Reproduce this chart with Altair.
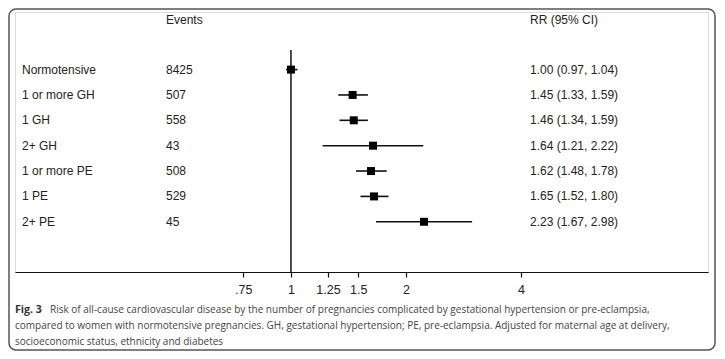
import altair as alt
import pandas as pd

groups = ["Normotensive", "1 or more GH", "1 GH", "2+ GH", "1 or more PE", "1 PE", "2+ PE"]
events = ["8425", "507", "558", "43", "508", "529", "45"]
rr = [1.00, 1.45, 1.46, 1.64, 1.62, 1.65, 2.23]
lo = [0.97, 1.33, 1.34, 1.21, 1.48, 1.52, 1.67]
hi = [1.04, 1.59, 1.59, 2.22, 1.78, 1.80, 2.98]
tick_values = [0.75, 1, 1.25, 1.5, 2, 4]
caption_bold = "Fig. 3"
caption_lines = [
    "Risk of all-cause cardiovascular disease by the number of pregnancies complicated by gestational hypertension or pre-eclampsia,",
    "compared to women with normotensive pregnancies. GH, gestational hypertension; PE, pre-eclampsia. Adjusted for maternal age at delivery,",
    "socioeconomic status, ethnicity and diabetes",
]

df = pd.DataFrame({
    "group": groups,
    "events": events,
    "rr": rr,
    "lo": lo,
    "hi": hi,
    "row": list(range(len(groups))),
})
df["label"] = [f"{r:.2f} ({l:.2f}, {h:.2f})" for r, l, h in zip(rr, lo, hi)]

W, H = 693, 260
FONT = "Liberation Sans"
TXT = "#222222"

xscale = alt.Scale(type="log", domain=[0.1895, 12.35], nice=False, zero=False)
yscale = alt.Scale(domain=[-2.27, 7.98], reverse=True, nice=False, zero=False)

base = alt.Chart(df)

xaxis = alt.Axis(
    values=tick_values,
    labelExpr="datum.value == 0.75 ? '.75' : format(datum.value, '')",
    grid=False, title=None, domain=True, domainColor="#111", domainWidth=1.2,
    tickColor="#111", tickSize=5, tickWidth=1.2,
    labelFont=FONT, labelFontSize=12.5, labelColor=TXT, labelPadding=6,
)

ci = base.mark_rule(color="#111", strokeWidth=1.6).encode(
    x=alt.X("lo:Q", scale=xscale, axis=xaxis),
    x2="hi:Q",
    y=alt.Y("row:Q", scale=yscale, axis=None),
)
pts = base.mark_square(color="#000", size=64, opacity=1).encode(
    x=alt.X("rr:Q", scale=xscale),
    y=alt.Y("row:Q", scale=yscale),
)

refline = alt.Chart(pd.DataFrame({"v": [1]})).mark_rule(color="#111", strokeWidth=1.5).encode(
    x=alt.X("v:Q", scale=xscale),
    y=alt.value(38), y2=alt.value(H),
)

def col_text(field, xpix):
    return base.mark_text(align="left", baseline="middle", font=FONT, fontSize=12, color=TXT).encode(
        x=alt.value(xpix), y=alt.Y("row:Q", scale=yscale), text=f"{field}:N"
    )

t_group = col_text("group", 7)
t_events = col_text("events", 151)
t_rr = col_text("label", 515)

headers = alt.Chart(pd.DataFrame({"h": ["Events", "RR (95% CI)"], "xp": [151, 515]})).mark_text(
    align="left", baseline="middle", font=FONT, fontSize=12, color=TXT
).encode(x=alt.X("xp:Q", scale=None), y=alt.value(8), text="h:N")

cap_bold = alt.Chart(pd.DataFrame({"t": [caption_bold]})).mark_text(
    align="left", baseline="middle", font="Open Sans", fontSize=10.6, fontWeight="bold", color="#333"
).encode(x=alt.value(0), y=alt.value(298), text="t:N")

cap_df = pd.DataFrame({"t": caption_lines, "i": [0, 1, 2], "xp": [35, 0, 0], "yp": [298, 314, 330]})
cap_rest = alt.Chart(cap_df).mark_text(
    align="left", baseline="middle", font="Open Sans", fontSize=10.0, color="#444"
).encode(x=alt.X("xp:Q", scale=None), y=alt.Y("yp:Q", scale=None), text="t:N")

border = alt.Chart(pd.DataFrame({"a": [0]})).mark_rect(
    fillOpacity=0, stroke="#555", strokeWidth=1.5, cornerRadius=7
).encode(x=alt.value(-6), x2=alt.value(W + 7), y=alt.value(-3), y2=alt.value(H + 78))

chart = alt.layer(border, refline, ci, pts, t_group, t_events, t_rr, headers, cap_bold, cap_rest).properties(
    width=W, height=H,
    autosize=alt.AutoSizeParams(type="none"),
    padding={"left": 7, "top": 4, "right": 9, "bottom": 79},
).configure_view(stroke=None).configure(background="white")

chart.save("out.html", embed_options={"renderer": "svg", "actions": False})
